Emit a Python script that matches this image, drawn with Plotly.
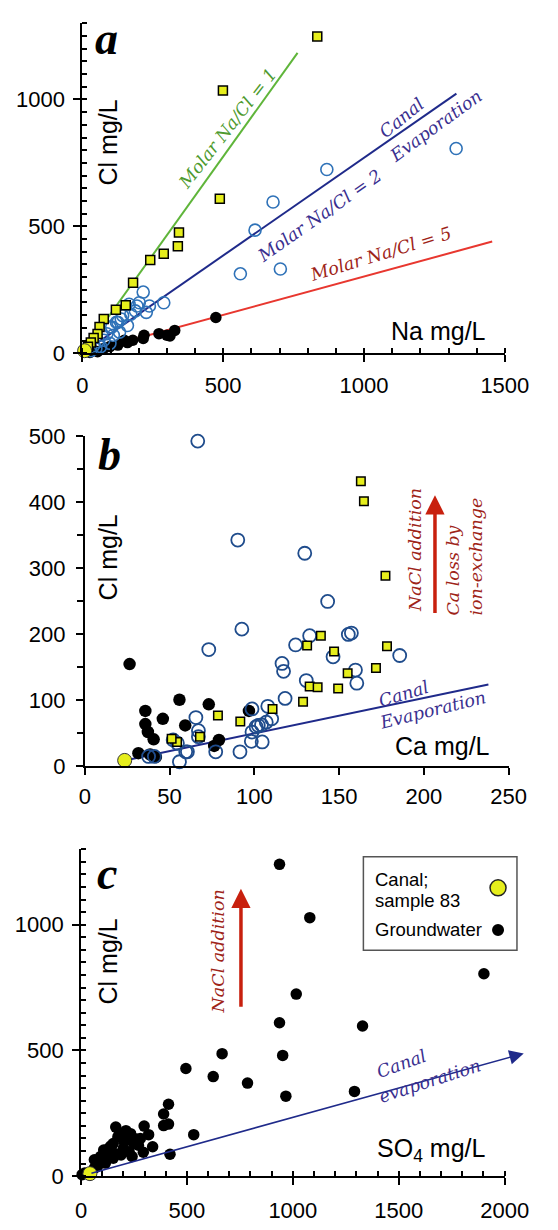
import plotly.graph_objects as go

W, H = 558, 1230

# ---------------- Panel a : Na vs Cl ----------------
a_sq_na = [834, 499, 488, 343, 339, 289, 241, 180, 154, 119, 76, 61, 54, 40, 30, 20]
a_sq_cl = [1248, 1035, 609, 476, 422, 392, 367, 278, 189, 171, 135, 103, 76, 60, 42, 25]
a_bc_na = [1327, 868, 677, 613, 561, 703, 289, 216, 227, 194, 166, 172, 143, 126, 98, 202, 238,
           188, 160, 138, 121, 104, 110, 87, 76, 54, 48, 65, 98, 132, 30, 40]
a_bc_cl = [807, 724, 596, 485, 313, 332, 199, 241, 161, 186, 193, 154, 148, 122, 103, 199, 186,
           167, 109, 135, 122, 103, 71, 77, 51, 45, 19, 26, 39, 83, 10, 30]
a_bk_na = [474, 328, 311, 272, 219, 216, 179, 149, 126, 98, 76, 54, 27, 300, 160, 40]
a_bk_cl = [141, 90, 68, 77, 71, 58, 51, 51, 32, 26, 19, 6, 3, 71, 42, 12]
a_canal_na = [8]
a_canal_cl = [10]
# molar ratio lines (Na/Cl = 1, 2, 5): end points
ratio_names = ["Molar Na/Cl = 1", "Molar Na/Cl = 2", "Molar Na/Cl = 5"]
ratio_x_end = [764, 1328, 1455]
ratio_y_end = [1184, 1023, 440]

# ---------------- Panel b : Ca vs Cl ----------------
b_sq_ca = [162.8, 164.6, 177.3, 139.2, 131.1, 147.0, 178.2, 171.7, 155.0, 132.6, 137.3, 149.4,
           128.7, 110.7, 91.7, 78.5, 67.9, 54.4, 51.2]
b_sq_cl = [432, 402, 289, 198, 183, 174, 182, 149, 141, 121, 120, 118, 98, 87, 68, 77, 45, 37, 42]
b_bc_ca = [66.6, 90.2, 129.7, 143.2, 92.6, 73.1, 124.3, 132.6, 155.4, 157.2, 146.4, 185.7, 159.6,
           160.4, 116.3, 117.2, 130.6, 118.1, 107.9, 98.6, 65.5, 67.0, 67.0, 52.1, 55.8, 60.5,
           77.2, 91.5, 98.2, 104.6, 98.6, 102.3, 107.0, 110.2, 104.2, 101.0, 54.6, 37.6, 41.0, 59.5]
b_bc_cl = [493, 343, 323, 250, 208, 177, 184, 198, 200, 202, 166, 168, 146, 126, 156, 144, 130,
           103, 91, 87, 74, 54, 45, 40, 7, 22, 22, 22, 38, 37, 52, 62, 67, 72, 63, 60, 35, 15, 15, 22]
b_bk_ca = [26.4, 55.8, 73.1, 35.7, 46.0, 35.7, 59.2, 37.2, 40.6, 96.8, 79.1, 76.3, 31.6, 41.9, 38.5]
b_bk_cl = [155, 101, 94, 84, 72, 64, 62, 52, 41, 84, 40, 31, 20, 14, 18]
b_canal_ca = [23.5]
b_canal_cl = [9]
b_evap_ca = [23.5, 238]
b_evap_cl = [9, 124]
b_arrow_ca = [206.5, 206.5]
b_arrow_cl = [230, 411]

# ---------------- Panel c : SO4 vs Cl ----------------
c_gw_so4 = [937, 1080, 1902, 1016, 937, 1329, 666, 952, 495, 624, 786, 967, 1291, 413, 390, 390,
            413, 532, 420, 164, 212, 234, 298, 319, 338, 294, 271, 204, 174, 152, 130, 107, 92,
            63, 227, 189, 152, 115, 78, 63, 18, 5, 256, 241, 182, 250, 280, 200, 160, 120, 100,
            140, 220]
c_gw_cl = [1240, 1028, 805, 724, 610, 597, 487, 480, 428, 396, 370, 318, 337, 286, 247, 201,
           207, 165, 87, 195, 181, 169, 199, 165, 117, 95, 123, 136, 156, 130, 110, 104, 78,
           65, 97, 84, 71, 52, 39, 32, 13, 6, 149, 78, 169, 130, 150, 110, 90, 80, 60, 120, 160]
c_canal_so4 = [42]
c_canal_cl = [10]
c_evap_so4 = [42, 2090]
c_evap_cl = [10, 488]
c_arrow_so4 = [755, 755]
c_arrow_cl = [668, 1143]

# ---------------- styling ----------------
YEL = "#e6ee1c"
BLUE_PT_A = "#2f72b8"
BLUE_PT_B = "#1f4c8c"
NAVY = "#1f2a8a"
GREEN = "#5fb53a"
RED = "#e8372f"
TXT_GREEN = "#4e9a2e"
TXT_BLUE = "#3a2f8f"
TXT_RED = "#9e2418"
ARROW_RED = "#c8200e"
SANS = "Liberation Sans, Arial, sans-serif"
SERIF = "DejaVu Serif, serif"


def px(x, y):
    return x / W, 1 - y / H


fig = go.Figure()


def markers(x, y, xa, ya, **mk):
    fig.add_trace(go.Scatter(x=x, y=y, mode="markers", xaxis=xa, yaxis=ya, marker=mk,
                             showlegend=False, cliponaxis=False))


# panel a
for xe, ye, col in zip(ratio_x_end, ratio_y_end, [GREEN, NAVY, RED]):
    fig.add_trace(go.Scatter(x=[0, xe], y=[0, ye], mode="lines", line=dict(color=col, width=2),
                             xaxis="x", yaxis="y", showlegend=False, hoverinfo="skip"))
markers(a_bk_na, a_bk_cl, "x", "y", size=11.5, color="black")
markers(a_bc_na, a_bc_cl, "x", "y", size=12, color=BLUE_PT_A, symbol="circle-open",
        line=dict(color=BLUE_PT_A, width=1.6))
markers(a_sq_na, a_sq_cl, "x", "y", size=9, color=YEL, symbol="square",
        line=dict(color="black", width=1.5))
markers(a_canal_na, a_canal_cl, "x", "y", size=14, color=YEL, line=dict(color="#333", width=1))

# panel b
fig.add_trace(go.Scatter(x=b_evap_ca, y=b_evap_cl, mode="lines", line=dict(color=NAVY, width=2),
                         xaxis="x2", yaxis="y2", showlegend=False))
markers(b_bk_ca, b_bk_cl, "x2", "y2", size=12.5, color="black")
markers(b_bc_ca, b_bc_cl, "x2", "y2", size=13, color=BLUE_PT_B, symbol="circle-open",
        line=dict(color=BLUE_PT_B, width=1.8))
markers(b_sq_ca, b_sq_cl, "x2", "y2", size=8.5, color=YEL, symbol="square",
        line=dict(color="black", width=1.5))
markers(b_canal_ca, b_canal_cl, "x2", "y2", size=14, color=YEL, line=dict(color="#333", width=1))

# panel c
markers(c_gw_so4, c_gw_cl, "x3", "y3", size=11.5, color="black")
markers(c_canal_so4, c_canal_cl, "x3", "y3", size=14, color=YEL, line=dict(color="#333", width=1))

ann = []


def arrow(xs, ys, xa, ya, color, width, size):
    ann.append(dict(x=xs[1], y=ys[1], ax=xs[0], ay=ys[0], xref=xa, yref=ya, axref=xa, ayref=ya,
                    showarrow=True, text="", arrowhead=2, arrowsize=size, arrowwidth=width,
                    arrowcolor=color))


arrow(b_arrow_ca, b_arrow_cl, "x2", "y2", ARROW_RED, 3.5, 1.1)
arrow(c_arrow_so4, c_arrow_cl, "x3", "y3", ARROW_RED, 3.5, 1.1)
arrow(c_evap_so4, c_evap_cl, "x3", "y3", NAVY, 1.6, 1.8)


def text_px(x, y, text, size, color="black", family=SANS, angle=0, align="center"):
    xp, yp = px(x, y)
    ann.append(dict(x=xp, y=yp, xref="paper", yref="paper", text=text, showarrow=False,
                    textangle=angle, align=align, xanchor="center", yanchor="middle",
                    font=dict(size=size, color=color, family=family)))


# panel labels
LBL = "Liberation Serif, serif"
text_px(106, 27, "<b><i>a</i></b>", 46, family=LBL)
text_px(109, 452, "<b><i>b</i></b>", 46, family=LBL)
text_px(107, 879, "<b><i>c</i></b>", 46, family=LBL)

# axis titles (inside the plots)
text_px(108, 133, "Cl mg/L", 25, angle=-90)
text_px(457, 326, "Na mg/L", 25)
text_px(107.5, 557, "Cl mg/L", 25, angle=-90)
text_px(461, 749, "Ca mg/L", 25)
text_px(108, 969, "Cl mg/L", 25, angle=-90)
text_px(449, 1162, "SO<sub>4</sub> mg/L", 25)

# line labels panel a
text_px(234.5, 118.5, "<i>Molar Na/Cl = 1</i>", 17.5, TXT_GREEN, SERIF, -52)
text_px(331, 208, "<i>Molar Na/Cl = 2</i>", 17.5, TXT_BLUE, SERIF, -35)
text_px(396, 247, "<i>Molar Na/Cl = 5</i>", 17.5, TXT_RED, SERIF, -17)
text_px(418, 108, "<i>Canal</i>", 17.5, TXT_BLUE, SERIF, -39)
text_px(454, 116, "<i>Evaporation</i>", 17.5, TXT_BLUE, SERIF, -36)

# panel b texts
text_px(420, 696, "<i>Canal</i>", 17.5, TXT_BLUE, SERIF, -17)
text_px(451, 712, "<i>Evaporation</i>", 17.5, TXT_BLUE, SERIF, -14)
text_px(432.5, 549, "<i>NaCl addition</i>", 17.5, TXT_RED, SERIF, -90)
text_px(485, 556, "<i>Ca loss by<br>ion-exchange</i>", 17.5, TXT_RED, SERIF, -90, align="left")

# panel c texts
text_px(224, 959, "<i>NaCl addition</i>", 17.5, TXT_RED, SERIF, -90)
text_px(417.5, 1074, "<i>Canal</i>", 17.5, TXT_BLUE, SERIF, -20)
text_px(448, 1091, "<i>evaporation</i>", 17.5, TXT_BLUE, SERIF, -18)

# legend (panel c)
for x, y, t in [(388, 885, "Canal;"), (388, 907, "sample 83"), (388, 937, "Groundwater")]:
    xp, yp = px(x, y)
    ann.append(dict(x=xp, y=yp, xref="paper", yref="paper", text=t, showarrow=False,
                    xanchor="left", yanchor="middle", font=dict(size=18.5, color="black", family=SANS)))

lx0, ly0 = px(377.7, 862.3)
lx1, ly1 = px(540, 957.7)
shapes = [dict(type="rect", xref="paper", yref="paper", x0=lx0, x1=lx1, y0=ly1, y1=ly0,
               line=dict(color="#555", width=1.5), fillcolor="white", layer="below")]
for (cx, cy, r, col, lw) in [(520, 894, 8, YEL, 1.5), (520, 937, 6, "black", 0)]:
    xa, ya = px(cx, cy)
    shapes.append(dict(type="circle", xref="paper", yref="paper", xsizemode="pixel",
                       ysizemode="pixel", xanchor=xa, yanchor=ya, x0=-r, x1=r, y0=-r, y1=r,
                       fillcolor=col, line=dict(color="#222", width=lw)))

axis_common = dict(showline=True, linecolor="black", linewidth=2, showgrid=False, zeroline=False,
                   ticks="outside", ticklen=7, tickwidth=2, tickcolor="black",
                   tickfont=dict(family=SANS, size=22, color="black"), mirror=False)


def dom(p0, p1):
    return [p0 / W, p1 / W]


def vdom(top, bottom):
    return [1 - bottom / H, 1 - top / H]


fig.update_layout(
    width=W, height=H, margin=dict(l=0, r=0, t=0, b=0),
    paper_bgcolor="white", plot_bgcolor="rgba(0,0,0,0)", showlegend=False,
    xaxis=dict(domain=dom(80.7, 527.2), range=[0, 1500], dtick=500, anchor="y",
               minor=dict(dtick=100, ticks="inside", ticklen=5, tickwidth=1.5, tickcolor="black"),
               ticklabelstandoff=4, **axis_common),
    yaxis=dict(domain=vdom(11.6, 348.3), range=[0, 1300], tickvals=[0, 500, 1000], anchor="x",
               minor=dict(dtick=50, ticks="inside", ticklen=5, tickwidth=1.5, tickcolor="black"),
               ticklabelstandoff=4, **axis_common),
    xaxis2=dict(domain=dom(83.3, 531.3), range=[0, 250], dtick=50, anchor="y2",
                ticklabelstandoff=2, **axis_common),
    yaxis2=dict(domain=vdom(433.3, 770), range=[0, 500], dtick=100, anchor="x2",
                minor=dict(dtick=50, ticks="outside", ticklen=6, tickwidth=1.5, tickcolor="black"),
                ticklabelstandoff=6, **axis_common),
    xaxis3=dict(domain=dom(79.3, 527.0), range=[0, 2000], dtick=500, anchor="y3",
                minor=dict(dtick=100, ticks="inside", ticklen=5, tickwidth=1.5, tickcolor="black"),
                ticklabelstandoff=6, **axis_common),
    yaxis3=dict(domain=vdom(854.6, 1188.3), range=[0, 1300], tickvals=[0, 500, 1000], anchor="x3",
                minor=dict(dtick=50, ticks="inside", ticklen=5, tickwidth=1.5, tickcolor="black"),
                ticklabelstandoff=4, **axis_common),
    annotations=ann, shapes=shapes,
)

fig.write_html("out.html")
